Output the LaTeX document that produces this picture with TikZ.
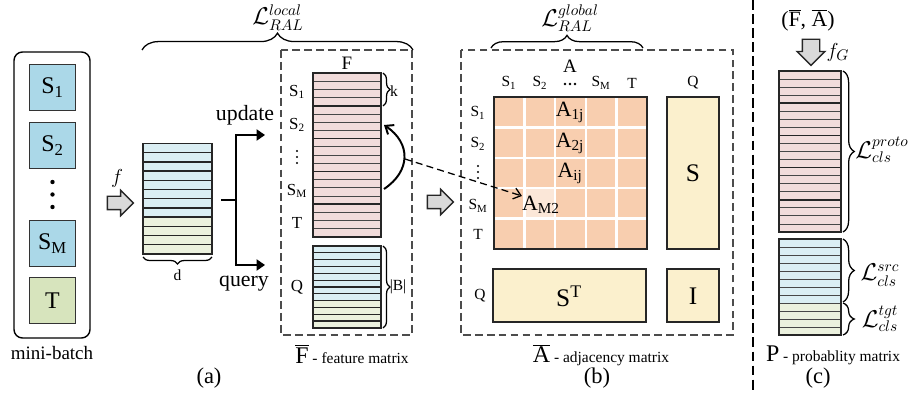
\documentclass[tikz,border=0pt]{standalone}
\usepackage{fontspec}
\setmainfont{Liberation Serif}
\usetikzlibrary{calc,positioning,arrows.meta,shapes.arrows,decorations.pathreplacing}
\definecolor{srcblue}{HTML}{DAEEF3}
\definecolor{tgtgreen}{HTML}{EBF1DE}
\definecolor{protopink}{HTML}{F2DCDB}
\definecolor{boxblue}{HTML}{ABD8E8}
\definecolor{boxgreen}{HTML}{D7E4BD}
\definecolor{adjorange}{HTML}{F8CEAF}
\definecolor{adjlight}{HTML}{FBE7D8}
\definecolor{simyellow}{HTML}{FBF0CD}
\tikzstyle{rowline}    = [draw=black!72, line width=0.6pt]
\tikzstyle{stackline}  = [draw=black!85, line width=0.9pt]
\tikzstyle{groupline}  = [draw=black!85, line width=1pt]
\tikzstyle{outline}    = [draw=black!85, line width=1.1pt]
\tikzstyle{gridline}   = [draw=white, line width=1.6pt]
\tikzstyle{dashbox}    = [draw=black!70, line width=0.9pt, dash pattern=on 5.5pt off 3pt]
\tikzstyle{sepline}    = [draw=black, line width=1.1pt, dash pattern=on 7pt off 3pt]
\tikzstyle{brace}      = [decorate, decoration={brace, amplitude=5pt}, line width=0.9pt]
\tikzstyle{blockarrow} = [single arrow, draw=black!85, fill=black!15, line width=1pt, inner sep=0.15cm, single arrow head extend=0.15cm, minimum height=0.65cm]
\tikzstyle{arrow}      = [line width=1pt, -{Triangle[length=6pt,width=8pt]}]
\tikzstyle{curvearrow} = [line width=1.4pt, -{Straight Barb[length=5pt,width=8pt]}]
\tikzstyle{dasharrow}  = [line width=0.9pt, dash pattern=on 5pt off 3pt, -{Straight Barb[length=5pt,width=8pt]}]
\tikzstyle{batchbox}   = [draw=black!80, line width=1.2pt, minimum size=1.15cm, inner sep=0pt, font=\fontsize{17}{20}\selectfont]
\tikzstyle{txtsmall}   = [font=\fontsize{11}{13}\selectfont, inner sep=0pt]
\tikzstyle{txtrow}     = [font=\fontsize{12}{14}\selectfont, inner sep=0pt]
\tikzstyle{txtmid}     = [font=\fontsize{13.5}{16}\selectfont, inner sep=0pt]
\tikzstyle{txtlarge}   = [font=\fontsize{15.5}{18}\selectfont, inner sep=0pt]
\tikzstyle{txtbig}     = [font=\fontsize{18}{21}\selectfont, inner sep=0pt]
\tikzstyle{txtloss}    = [font=\fontsize{16}{19}\selectfont, inner sep=0pt]

\begin{document}
\begin{tikzpicture}[x=0.025cm,y=-0.025cm]
\useasboundingbox (0,0) rectangle (914,399);

\draw[line width=1pt, rounded corners=6pt] (14,52) rectangle (90,338);
\node[batchbox, fill=boxblue] (s1) at (52.5,87.5) {S\textsubscript{1}};
\node[batchbox, fill=boxblue] (s2) at (52.5,145.5) {S\textsubscript{2}};
\node[batchbox, fill=boxblue] (sm) at (52.5,243.5) {S\textsubscript{M}};
\node[batchbox, fill=boxgreen] (t) at (52.5,300.5) {T};
\foreach \y in {182,194.5,207} \fill (52.5,\y) circle (2.2);
\node[txtmid] (batch) at (52,353) {mini-batch};
\node[txtsmall] (capa) at (209,378) {\fontsize{16}{19}\selectfont(a)};

\node[blockarrow] (farrow) at (117,203) {};
\node[txtlarge] (fname) at (117,178) {$f$};

\foreach \i in {0,...,7} \draw[stackline, fill=srcblue] (143,143.5+9.2*\i) rectangle ++(69,9.2);
\foreach \i in {8,...,11} \draw[stackline, fill=tgtgreen] (143,143.5+9.2*\i) rectangle ++(69,9.2);
\draw[brace] (212,257) -- (143,257);
\node[txtsmall] (dim) at (177.5,275) {d};

\coordinate (forkin) at (221,200);
\coordinate (fork) at (236,200);
\coordinate (upd) at (265,135);
\coordinate (qry) at (265,265);
\draw[line width=1pt] (forkin) -- (fork);
\draw[arrow] (fork) |- (upd);
\draw[arrow] (fork) |- (qry);
\node[txtlarge] (updtxt) at (245,115) {update};
\node[txtlarge] (qrytxt) at (244,284) {query};

\draw[dashbox] (281,50) rectangle (412,335);
\draw[brace, decoration={amplitude=12pt}] (142,50) -- (413,50);
\node[txtloss] (lrallocal) at (278,18) {$\mathcal{L}_{RAL}^{local}$};

\node[txtmid] (ftitle) at (347,63) {F};
\foreach \i in {0,...,19} \draw[rowline, fill=protopink] (313,73+8.2*\i) rectangle ++(68,8.2);
\foreach \i in {1,...,4} \draw[groupline] (313,73+32.8*\i) -- ++(68,0);
\draw[outline] (313,73) rectangle (381,237);
\foreach \i in {0,...,7} \draw[stackline, fill=srcblue] (313,246+6.83*\i) rectangle ++(68,6.83);
\foreach \i in {8,...,11} \draw[stackline, fill=tgtgreen] (313,246+6.83*\i) rectangle ++(68,6.83);
\draw[brace] (383,73) -- (383,106);
\node[txtsmall] (ksize) at (394,91) {k};
\draw[brace] (383,246) -- (383,328);
\node[txtsmall] (bsize) at (398,287) {|B|};

\node[txtrow] (fs1) at (297,92) {S\textsubscript{1}};
\node[txtrow] (fs2) at (297,125) {S\textsubscript{2}};
\foreach \y in {151,157,163} \fill (297,\y) circle (1.1);
\node[txtrow] (fsm) at (297,191) {S\textsubscript{M}};
\node[txtrow] (ft) at (297,223) {T};
\node[txtrow] (fq) at (297,287) {Q};

\coordinate (smrow) at (384,189);
\coordinate (s2row) at (384,125);
\coordinate (loopmid) at (405,159);
\draw[curvearrow] (smrow) .. controls (411,171) and (411,143) .. (s2row);

\node[txtlarge] (fbar) at (352,354) {\fontsize{17}{20}\selectfont$\overline{\mbox{F}}$\fontsize{11}{13}\selectfont\ - feature matrix};

\node[blockarrow] (aarrow) at (437,202) {};

\draw[dashbox] (461,50) rectangle (733,335);
\draw[brace, decoration={amplitude=9pt}] (491,48) -- (643,48);
\node[txtloss] (lralglobal) at (570,18) {$\mathcal{L}_{RAL}^{global}$};

\node[txtmid] (atitle) at (570,66) {A};
\fill[adjorange] (494,97) rectangle (647,249);
\fill[adjlight] (524.6,188.2) rectangle ++(30.6,30.4);
\foreach \i in {1,...,4} {
  \draw[gridline] (494+30.6*\i,97) -- ++(0,152);
  \draw[gridline] (494,97+30.4*\i) -- ++(153,0);
}
\draw[outline] (494,97) rectangle (647,249);

\node[txtsmall] (cs1) at (509,83) {S\textsubscript{1}};
\node[txtsmall] (cs2) at (540,83) {S\textsubscript{2}};
\foreach \x in {565,570,575} \fill (\x,84) circle (1.3);
\node[txtsmall] (csm) at (601,83) {S\textsubscript{M}};
\node[txtsmall] (ct) at (632,83) {T};
\node[txtsmall] (cq) at (693,83) {Q};
\node[txtsmall] (rs1) at (478,113) {S\textsubscript{1}};
\node[txtsmall] (rs2) at (478,144) {S\textsubscript{2}};
\foreach \y in {166,172,178} \fill (478,\y) circle (1.1);
\node[txtsmall] (rsm) at (478,206) {S\textsubscript{M}};
\node[txtsmall] (rt) at (478,234) {T};
\node[txtsmall] (rq) at (480,296) {Q};

\node[txtlarge] (a1j) at (570,112) {A\textsubscript{1j}};
\node[txtlarge] (a2j) at (570,143) {A\textsubscript{2j}};
\node[txtlarge] (aij) at (570,173) {A\textsubscript{ij}};
\node[txtlarge] (am2) at (541,205) {A\textsubscript{M2}};
\draw[dasharrow] (loopmid) -- (am2.north west);

\draw[outline, fill=simyellow] (667,97) rectangle (719,249);
\node[txtbig] (sblock) at (693,173) {S};
\draw[outline, fill=simyellow] (493,269) rectangle (646,322);
\node[txtbig] (stblock) at (569,296) {S\textsuperscript{T}};
\draw[outline, fill=simyellow] (667,269) rectangle (719,322);
\node[txtbig] (iblock) at (693,296) {I};

\node[txtlarge] (abar) at (601,355) {\fontsize{17}{20}\selectfont$\overline{\mbox{A}}$\fontsize{11}{13}\selectfont\ - adjacency matrix};
\node[txtsmall] (capb) at (597,378) {\fontsize{16}{19}\selectfont(b)};

\draw[sepline] (753,0) -- (753,392);

\node[txtlarge] (pinput) at (808,20) {($\overline{\mbox{F}}$, $\overline{\mbox{A}}$)};
\node[blockarrow, shape border rotate=270, inner sep=0.2cm, single arrow head extend=0.13cm, minimum height=0.58cm] (garrow) at (811,48) {};
\node[txtlarge] (fg) at (838,52) {$f_G$};

\foreach \i in {0,...,19} \draw[rowline, fill=protopink] (779,71+8.05*\i) rectangle ++(62,8.05);
\foreach \i in {1,...,4} \draw[groupline] (779,71+32.2*\i) -- ++(62,0);
\draw[outline] (779,71) rectangle (841,232);
\foreach \i in {0,...,7} \draw[rowline, fill=srcblue] (779,239+8*\i) rectangle ++(62,8);
\foreach \i in {8,...,11} \draw[rowline, fill=tgtgreen] (779,239+8*\i) rectangle ++(62,8);
\draw[outline] (779,239) rectangle (841,335);

\draw[brace, decoration={amplitude=8pt}] (843,71) -- (843,232);
\draw[brace, decoration={amplitude=8pt}] (843,239) -- (843,302);
\draw[brace, decoration={amplitude=8pt}] (843,303) -- (843,335);
\node[txtloss] (lproto) at (882,150) {$\mathcal{L}_{cls}^{proto}$};
\node[txtloss] (lsrc) at (880,275) {$\mathcal{L}_{cls}^{src}$};
\node[txtloss] (ltgt) at (880,319) {$\mathcal{L}_{cls}^{tgt}$};

\node[txtlarge] (pbar) at (833,355) {\fontsize{17}{20}\selectfont P\fontsize{11}{13}\selectfont\ - probablity matrix};
\node[txtsmall] (capc) at (818,378) {\fontsize{16}{19}\selectfont(c)};
\end{tikzpicture}
\end{document}
